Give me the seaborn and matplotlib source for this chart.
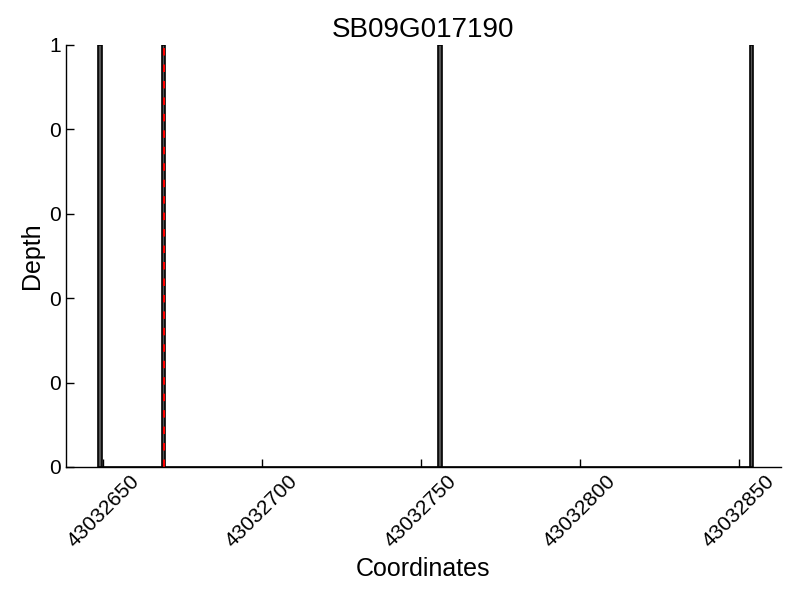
import matplotlib
matplotlib.use('Agg')
import matplotlib.pyplot as plt
import seaborn as sns
import numpy as np
from matplotlib.ticker import FormatStrFormatter

# Coverage depth at each covered coordinate
gene_name = 'SB09G017190'
positions = [43032649, 43032669, 43032756, 43032854]
depths = [1, 1, 1, 1]
snp_position = 43032669
x_range = [43032638.3, 43032863.3]
x_ticks = [43032650, 43032700, 43032750, 43032800, 43032850]

sns.set_style('white')
plt.rcParams['font.family'] = ['Liberation Sans', 'DejaVu Sans']
plt.rcParams['text.color'] = 'black'
plt.rcParams['axes.labelcolor'] = 'black'
plt.rcParams['xtick.color'] = 'black'
plt.rcParams['ytick.color'] = 'black'

fig = plt.figure(figsize=(8, 6), dpi=100)
ax = fig.add_axes([0.0825, 0.2217, 0.8935, 0.7033])

sns.histplot(x=positions, weights=depths, discrete=True, ax=ax,
             color='#555555', edgecolor='black', linewidth=1.2, alpha=1)
ax.axvline(snp_position, ymin=0, ymax=1, color='red',
           linestyle=(0, (3.6, 4.3)), linewidth=1.5)

ax.set_xlim(x_range)
ax.set_ylim(0, max(depths))
ax.set_xticks(x_ticks)
ax.set_xticklabels([str(t) for t in x_ticks], rotation=45, fontsize=15)
ax.set_yticks(np.linspace(0, max(depths), 6))
ax.yaxis.set_major_formatter(FormatStrFormatter('%d'))
ax.tick_params(axis='y', labelsize=15)
ax.tick_params(direction='in', length=6, width=1, bottom=True, left=True, top=False, right=False)

for side in ['top', 'right']:
    ax.spines[side].set_visible(False)
for side in ['bottom', 'left']:
    ax.spines[side].set_color('black')
    ax.spines[side].set_linewidth(1)

ax.set_title(gene_name, fontsize=20)
ax.set_xlabel('Coordinates', fontsize=18)
ax.set_ylabel('Depth', fontsize=18)

fig.savefig('out.png', dpi=100)
